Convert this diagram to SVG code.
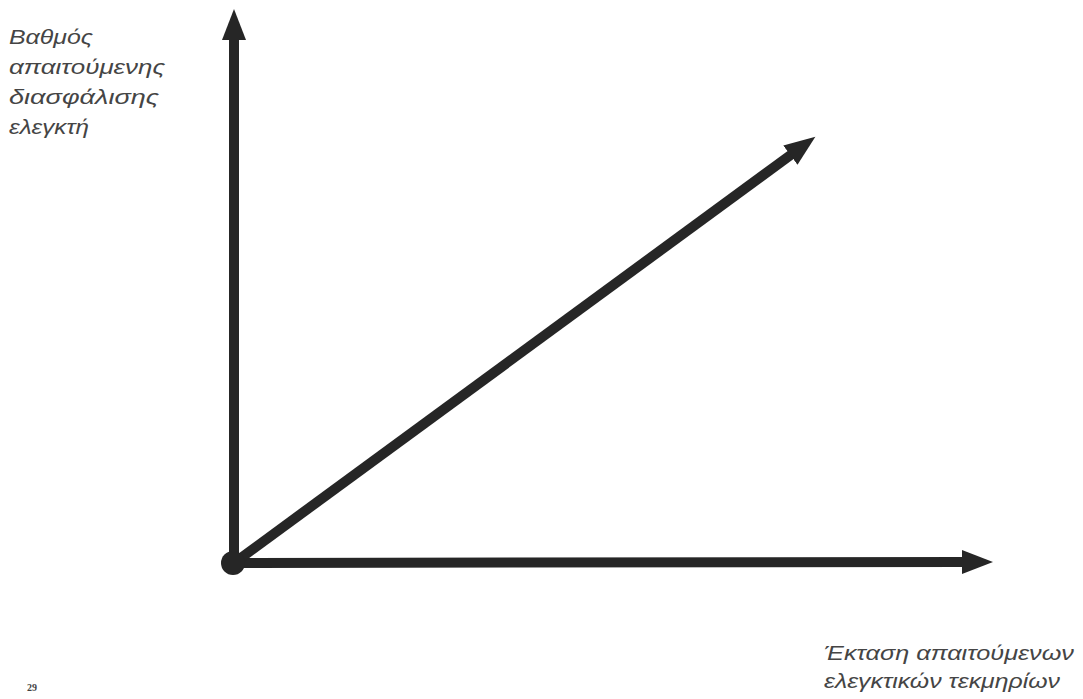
<svg xmlns="http://www.w3.org/2000/svg" width="1083" height="699" viewBox="0 0 1083 699">
<style>
.lbl{font-family:"Liberation Sans",Arial,sans-serif;font-style:italic;font-size:21px;fill:#454545}
.ax{stroke:#262626;stroke-width:10;fill:none}
.pg{font-family:"Liberation Serif",serif;font-size:10px;font-weight:bold;fill:#444}
</style>
<defs>
<marker id="ah" markerUnits="userSpaceOnUse" markerWidth="32" markerHeight="26" refX="2" refY="13" orient="auto" viewBox="0 0 32 26">
<path d="M0,1 L31,13 L0,25 Z" fill="#262626"/>
</marker>
</defs>
<rect width="1083" height="699" fill="#fff"/>
<g id="connectors">
<line class="ax" x1="234" y1="563" x2="234" y2="38" marker-end="url(#ah)"/>
<line class="ax" x1="234" y1="563" x2="964" y2="562" marker-end="url(#ah)"/>
<line class="ax" x1="234" y1="563" x2="792" y2="154" marker-end="url(#ah)"/>
<circle cx="233" cy="563" r="12" fill="#262626"/>
</g>
<g id="y-label">
<text class="lbl" x="9" y="44" textLength="84" lengthAdjust="spacingAndGlyphs">Βαθμός</text>
<text class="lbl" x="9" y="74" textLength="156" lengthAdjust="spacingAndGlyphs">απαιτούμενης</text>
<text class="lbl" x="9" y="104" textLength="150" lengthAdjust="spacingAndGlyphs">διασφάλισης</text>
<text class="lbl" x="9" y="134" textLength="80" lengthAdjust="spacingAndGlyphs">ελεγκτή</text>
</g>
<g id="x-label">
<text class="lbl" x="824" y="660" textLength="250" lengthAdjust="spacingAndGlyphs">Έκταση απαιτούμενων</text>
<text class="lbl" x="824" y="688" textLength="236" lengthAdjust="spacingAndGlyphs">ελεγκτικών τεκμηρίων</text>
</g>
<text class="pg" x="27" y="691">29</text>
</svg>
